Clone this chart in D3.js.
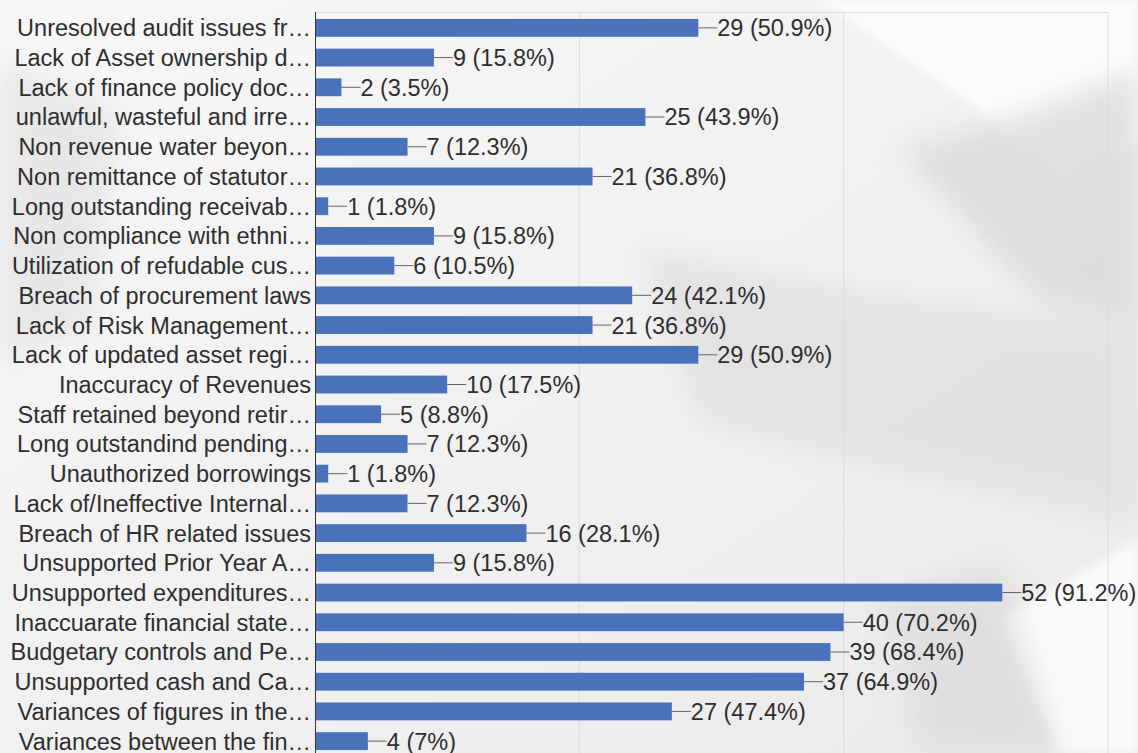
<!DOCTYPE html>
<html>
<head>
<meta charset="utf-8">
<script src="https://cdn.jsdelivr.net/npm/d3@7"></script>
<style>
  html, body { margin: 0; padding: 0; background: #f3f3f3; }
  svg { display: block; }
</style>
</head>
<body>
<svg id="chart" width="1138" height="753"></svg>
<script>
// Audit findings: how many entities were flagged for each issue
const categories = [
  "Unresolved audit issues fr…",
  "Lack of Asset ownership d…",
  "Lack of finance policy doc…",
  "unlawful, wasteful and irre…",
  "Non revenue water beyon…",
  "Non remittance of statutor…",
  "Long outstanding receivab…",
  "Non compliance with ethni…",
  "Utilization of refudable cus…",
  "Breach of procurement laws",
  "Lack of Risk Management…",
  "Lack of updated asset regi…",
  "Inaccuracy of Revenues",
  "Staff retained beyond retir…",
  "Long outstandind pending…",
  "Unauthorized borrowings",
  "Lack of/Ineffective Internal…",
  "Breach of HR related issues",
  "Unsupported Prior Year A…",
  "Unsupported expenditures…",
  "Inaccuarate financial state…",
  "Budgetary controls and Pe…",
  "Unsupported cash and Ca…",
  "Variances of figures in the…",
  "Variances between the fin…"
];
const counts = [29, 9, 2, 25, 7, 21, 1, 9, 6, 24, 21, 29, 10, 5, 7, 1, 7, 16, 9, 52, 40, 39, 37, 27, 4];
const percents = ["50.9", "15.8", "3.5", "43.9", "12.3", "36.8", "1.8", "15.8", "10.5", "42.1", "36.8", "50.9", "17.5", "8.8", "12.3", "1.8", "12.3", "28.1", "15.8", "91.2", "70.2", "68.4", "64.9", "47.4", "7"];
const xTicks = [0, 20, 40, 60];

const svg = d3.select("#chart");
const W = 1138, H = 753;
const FONT = "'Liberation Sans', Arial, sans-serif";
const FS = 23.5;

// --- soft, washed-out photographic backdrop ---
const defs = svg.append("defs");
const bgGrad = defs.append("linearGradient").attr("id", "bg").attr("x1", 0).attr("y1", 0).attr("x2", 1).attr("y2", 1);
bgGrad.append("stop").attr("offset", "0%").attr("stop-color", "#f7f7f7");
bgGrad.append("stop").attr("offset", "55%").attr("stop-color", "#f0f0f0");
bgGrad.append("stop").attr("offset", "100%").attr("stop-color", "#eaeaea");
defs.append("filter").attr("id", "soft").attr("x", "-20%").attr("y", "-20%").attr("width", "140%").attr("height", "140%")
  .append("feGaussianBlur").attr("stdDeviation", 14);
defs.append("filter").attr("id", "softer").attr("x", "-20%").attr("y", "-20%").attr("width", "140%").attr("height", "140%")
  .append("feGaussianBlur").attr("stdDeviation", 5);

svg.append("rect").attr("width", W).attr("height", H).attr("fill", "url(#bg)");

const bgShapes = svg.append("g").attr("class", "backdrop");
// open book pages at the top right
bgShapes.append("path").attr("d", "M820,0 L1138,0 L1138,140 L1060,190 L980,110 Z")
  .attr("fill", "#fbfbfb").attr("filter", "url(#softer)");
bgShapes.append("path").attr("d", "M900,150 L1010,120 L1138,70 L1138,330 L1040,300 Z")
  .attr("fill", "#dadada").attr("opacity", 0.8).attr("filter", "url(#soft)");
// hand / arm across the middle right
bgShapes.append("path").attr("d", "M640,250 L900,300 L1138,330 L1138,520 L900,470 L700,420 Z")
  .attr("fill", "#dedede").attr("opacity", 0.7).attr("filter", "url(#soft)");
// shaded strip along the left edge
bgShapes.append("path").attr("d", "M0,60 L120,110 L90,330 L0,360 Z")
  .attr("fill", "#e2e2e2").attr("opacity", 0.7).attr("filter", "url(#soft)");
// papers at the bottom right
bgShapes.append("path").attr("d", "M1000,620 L1138,540 L1138,753 L1060,753 Z")
  .attr("fill", "#fafafa").attr("filter", "url(#softer)");
bgShapes.append("path").attr("d", "M880,600 L1000,560 L1060,753 L920,753 Z")
  .attr("fill", "#d8d8d8").attr("opacity", 0.6).attr("filter", "url(#soft)");

// --- scales ---
const x = d3.scaleLinear().domain([0, 60]).range([315, 1108]);
const y = d3.scaleBand().domain(categories).range([13, 756]).paddingInner(0.4).paddingOuter(0.2);

// gridlines and frame
const grid = svg.append("g").attr("class", "grid");
grid.selectAll("line.v").data(xTicks.slice(1)).join("line")
  .attr("class", "v")
  .attr("x1", d => x(d)).attr("x2", d => x(d))
  .attr("y1", 12).attr("y2", H)
  .attr("stroke", "#dcdcdc").attr("stroke-width", 1);
grid.append("line")
  .attr("x1", x(0)).attr("x2", x(60)).attr("y1", 12.5).attr("y2", 12.5)
  .attr("stroke", "#dcdcdc").attr("stroke-width", 1);

// bars
const rows = categories.map((c, i) => ({ cat: c, v: counts[i], p: percents[i] }));
svg.append("g").selectAll("rect").data(rows).join("rect")
  .attr("x", x(0))
  .attr("y", d => y(d.cat))
  .attr("width", d => x(d.v) - x(0))
  .attr("height", y.bandwidth())
  .attr("fill", "#4a72bb");

// leader lines and value labels
const lab = svg.append("g").selectAll("g").data(rows).join("g");
lab.append("line")
  .attr("x1", d => x(d.v)).attr("x2", d => x(d.v) + 19)
  .attr("y1", d => y(d.cat) + y.bandwidth() / 2).attr("y2", d => y(d.cat) + y.bandwidth() / 2)
  .attr("stroke", "#666").attr("stroke-width", 1);
lab.append("text")
  .attr("x", d => x(d.v) + 19)
  .attr("y", d => y(d.cat) + y.bandwidth() / 2)
  .attr("dy", "0.36em")
  .attr("font-family", FONT).attr("font-size", FS).attr("fill", "#2e2e2e")
  .text(d => `${d.v} (${d.p}%)`);

// category axis
const yAxis = svg.append("g").attr("transform", `translate(${x(0)},0)`)
  .call(d3.axisLeft(y).tickSize(0).tickPadding(4));
yAxis.select(".domain").attr("stroke", "#333").attr("d", `M0.5,12V${H}`);
yAxis.selectAll("text").attr("font-family", FONT).attr("font-size", FS).attr("fill", "#2e2e2e").attr("dy", "0.36em");
</script>
</body>
</html>
